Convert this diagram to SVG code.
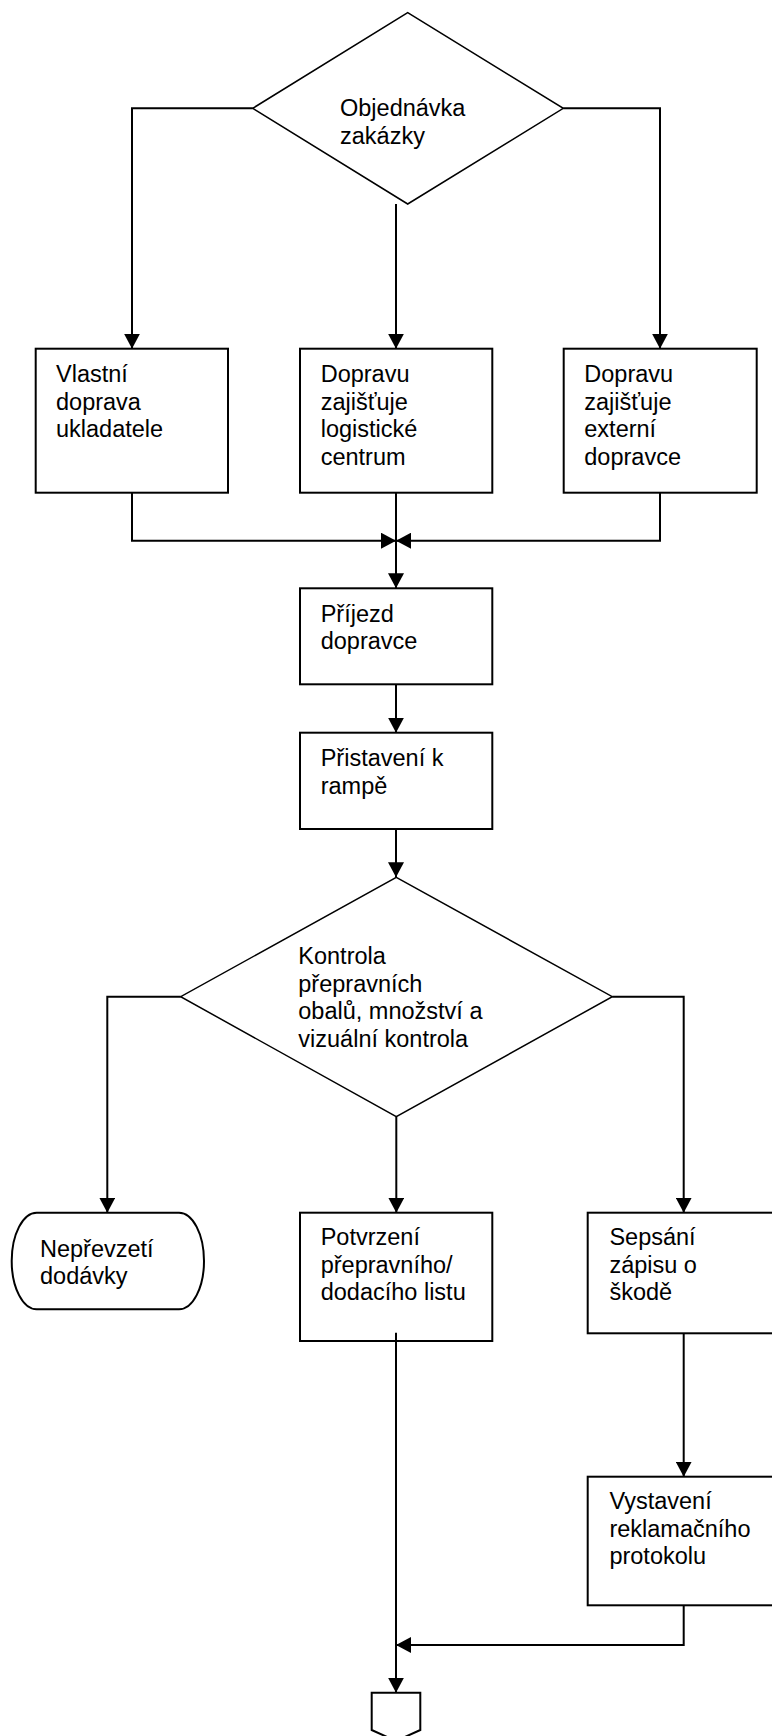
<svg xmlns="http://www.w3.org/2000/svg" width="772" height="1736" viewBox="0 0 772 1736">
  <style>
    .shape { fill: #ffffff; stroke: #000000; stroke-width: 2; }
    .dia { fill: #ffffff; stroke: #000000; stroke-width: 1.5; }
    .conn { fill: none; stroke: #000000; stroke-width: 2; marker-end: url(#arrow); }
    .lbl { font-family: "Liberation Sans", Arial, sans-serif; font-size: 23.5px; fill: #000000; }
  </style>
  <defs>
    <marker id="arrow" markerUnits="userSpaceOnUse" markerWidth="16" markerHeight="16" refX="15" refY="8" orient="auto">
      <path d="M0,0 L15,8 L0,16 Z" fill="#000000"/>
    </marker>
  </defs>
  <rect x="0" y="0" width="772" height="1736" fill="#ffffff"/>

  <g id="connectors">
    <path class="conn" d="M252.7,108.3 H132 V348.7"/>
    <path class="conn" d="M396,204 V348.7"/>
    <path class="conn" d="M563.3,108.3 H660 V348.7"/>
    <path class="conn" d="M132,492.7 V540.7 H396"/>
    <path class="conn" d="M660,492.7 V540.7 H396"/>
    <path class="conn" d="M396,492.7 V588.3"/>
    <path class="conn" d="M396,684.3 V732.7"/>
    <path class="conn" d="M396,829 V877.3"/>
    <path class="conn" d="M180.7,996.7 H107.3 V1212.7"/>
    <path class="conn" d="M396.3,1116.7 V1212.7"/>
    <path class="conn" d="M612.3,996.7 H683.7 V1212.7"/>
    <path class="conn" d="M683.7,1333.3 V1476.7"/>
    <path class="conn" d="M683.7,1596.7 V1645 H396"/>
  </g>

  <g id="n_objednavka">
    <polygon class="dia" points="407.7,12.7 563.3,108.3 407.7,204 252.7,108.3"/>
    <text class="lbl" x="340" y="116">Objednávka</text>
    <text class="lbl" x="340" y="144">zakázky</text>
  </g>

  <g id="n_vlastni">
    <rect class="shape" x="35.7" y="348.7" width="192.3" height="144"/>
    <text class="lbl" x="56" y="382.3">Vlastní</text>
    <text class="lbl" x="56" y="409.8">doprava</text>
    <text class="lbl" x="56" y="437.3">ukladatele</text>
  </g>

  <g id="n_dopravu_lc">
    <rect class="shape" x="300" y="348.7" width="192.3" height="144"/>
    <text class="lbl" x="320.7" y="382.3">Dopravu</text>
    <text class="lbl" x="320.7" y="409.8">zajišťuje</text>
    <text class="lbl" x="320.7" y="437.3">logistické</text>
    <text class="lbl" x="320.7" y="464.8">centrum</text>
  </g>

  <g id="n_dopravu_ext">
    <rect class="shape" x="563.7" y="348.7" width="193" height="144"/>
    <text class="lbl" x="584.3" y="382.3">Dopravu</text>
    <text class="lbl" x="584.3" y="409.8">zajišťuje</text>
    <text class="lbl" x="584.3" y="437.3">externí</text>
    <text class="lbl" x="584.3" y="464.8">dopravce</text>
  </g>

  <g id="n_prijezd">
    <rect class="shape" x="300" y="588.3" width="192.3" height="96"/>
    <text class="lbl" x="320.7" y="621.7">Příjezd</text>
    <text class="lbl" x="320.7" y="649.2">dopravce</text>
  </g>

  <g id="n_pristaveni">
    <rect class="shape" x="300" y="732.7" width="192.3" height="96.3"/>
    <text class="lbl" x="320.7" y="766">Přistavení k</text>
    <text class="lbl" x="320.7" y="793.5">rampě</text>
  </g>

  <g id="n_kontrola">
    <polygon class="dia" points="396.3,877.3 612.3,996.7 396.3,1116.7 180.7,996.7"/>
    <text class="lbl" x="298.3" y="964.3">Kontrola</text>
    <text class="lbl" x="298.3" y="991.8">přepravních</text>
    <text class="lbl" x="298.3" y="1019.3">obalů, množství a</text>
    <text class="lbl" x="298.3" y="1046.8">vizuální kontrola</text>
  </g>

  <g id="n_neprevzeti">
    <path class="shape" d="M36.7,1212.7 H179 A25,48.3 0 0 1 179,1309.3 H36.7 A25,48.3 0 0 1 36.7,1212.7 Z"/>
    <text class="lbl" x="40" y="1256.7">Nepřevzetí</text>
    <text class="lbl" x="40" y="1284.2">dodávky</text>
  </g>

  <g id="n_potvrzeni">
    <rect class="shape" x="300" y="1212.7" width="192.3" height="128.3"/>
    <text class="lbl" x="320.7" y="1245">Potvrzení</text>
    <text class="lbl" x="320.7" y="1272.5">přepravního/</text>
    <text class="lbl" x="320.7" y="1300">dodacího listu</text>
  </g>

  <g id="n_sepsani">
    <rect class="shape" x="587.7" y="1212.7" width="192" height="120.6"/>
    <text class="lbl" x="609.4" y="1245">Sepsání</text>
    <text class="lbl" x="609.4" y="1272.5">zápisu o</text>
    <text class="lbl" x="609.4" y="1300">škodě</text>
  </g>

  <g id="n_vystaveni">
    <rect class="shape" x="587.7" y="1476.7" width="192" height="128.6"/>
    <text class="lbl" x="609.4" y="1509.3">Vystavení</text>
    <text class="lbl" x="609.4" y="1536.8">reklamačního</text>
    <text class="lbl" x="609.4" y="1564.3">protokolu</text>
  </g>

  <g id="n_offpage">
    <path class="shape" d="M371.7,1692.7 H420.3 V1730 L396,1741 L371.7,1730 Z"/>
  </g>

  <g id="connectors_top">
    <path class="conn" d="M396,1332.7 V1692.7"/>
  </g>
</svg>
